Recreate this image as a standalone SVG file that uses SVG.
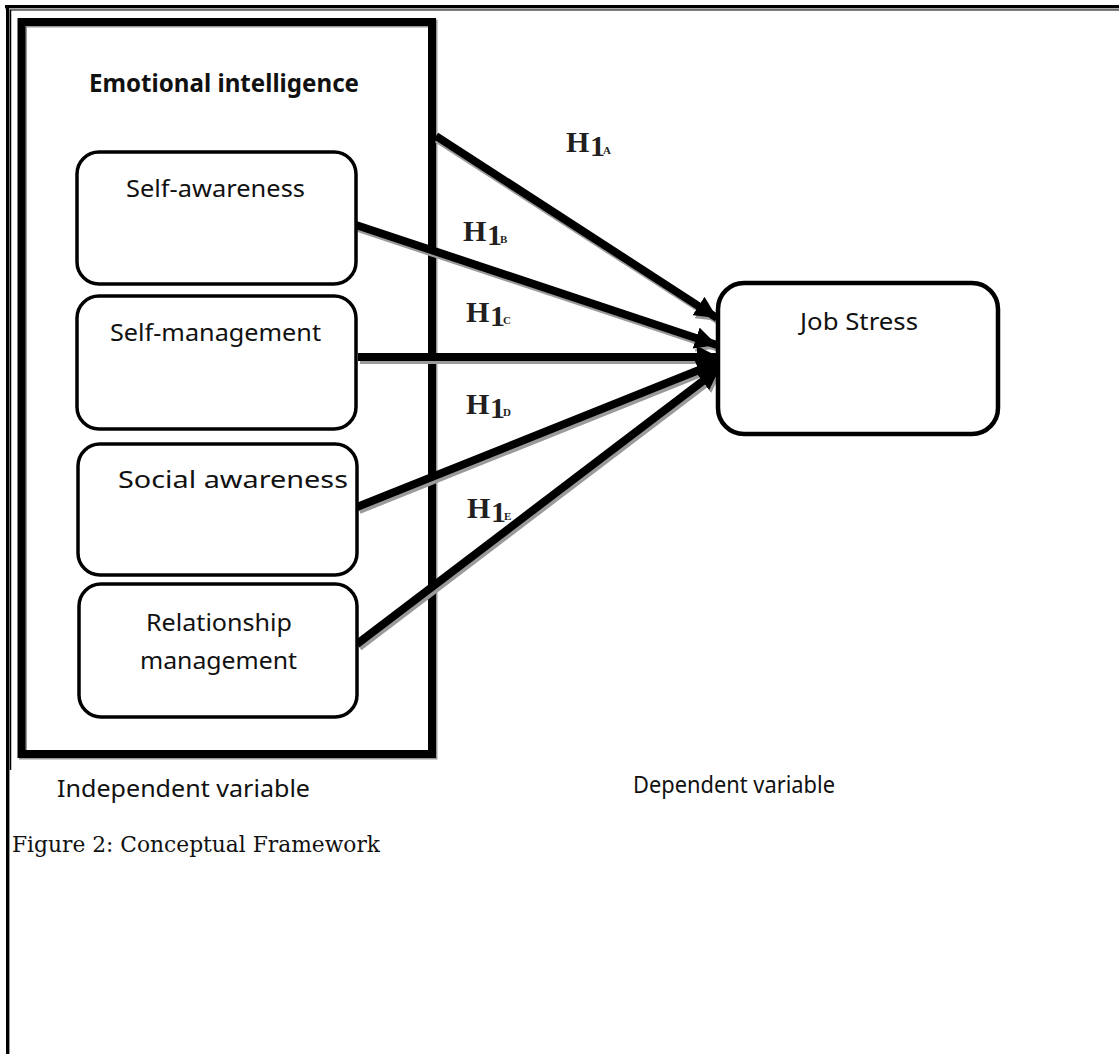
<svg xmlns="http://www.w3.org/2000/svg" width="1119" height="1054" viewBox="0 0 1119 1054">
<style>
.lbl{font-family:"Noto Sans","Open Sans",sans-serif;font-size:24px;fill:#111}
.hd{font-family:"Noto Sans","Open Sans",sans-serif;font-size:25px;font-weight:bold;fill:#111}
.cap{font-family:"DejaVu Serif","Liberation Serif",serif;font-size:22px;fill:#111}
.h{font-family:"Liberation Serif","Times New Roman",serif;font-size:30px;font-weight:bold;fill:#231f20}
.hs{font-size:11px}
.node{fill:#fff;stroke:#000;stroke-width:3.5}
.arr{fill:none;stroke:#000;stroke-width:8;marker-end:url(#ah)}
.sh{fill:none;stroke:#9a9a9a;stroke-width:8;marker-end:url(#ahs)}
</style>
<defs>
<marker id="ah" markerUnits="userSpaceOnUse" markerWidth="24" markerHeight="22" refX="22" refY="11" orient="auto">
<path d="M0,0 L22,11 L0,22 Z" fill="#000"/>
</marker>
<marker id="ahs" markerUnits="userSpaceOnUse" markerWidth="24" markerHeight="22" refX="22" refY="11" orient="auto">
<path d="M0,0 L22,11 L0,22 Z" fill="#9a9a9a"/>
</marker>
</defs>
<rect width="1119" height="1054" fill="#fff"/>
<g id="frame">
<line x1="5" y1="8.5" x2="1119" y2="8.5" stroke="#aaa" stroke-width="2"/>
<line x1="5" y1="6.5" x2="1119" y2="6.5" stroke="#000" stroke-width="3"/>
<line x1="10" y1="10" x2="1119" y2="10" stroke="#000" stroke-width="1"/>
<line x1="7.5" y1="5" x2="7.5" y2="1054" stroke="#000" stroke-width="3"/>
<line x1="9.5" y1="8" x2="9.5" y2="1054" stroke="#999" stroke-width="1"/>
<line x1="10.5" y1="10" x2="10.5" y2="770" stroke="#000" stroke-width="1.5"/>
</g>
<g id="ei-group">
<rect x="23" y="23.5" width="410.5" height="732" fill="none" stroke="#999" stroke-width="8"/>
<rect x="21.5" y="22" width="410.5" height="732" fill="none" stroke="#000" stroke-width="8"/>
<text class="hd" x="224" y="92" text-anchor="middle" textLength="270" lengthAdjust="spacingAndGlyphs">Emotional intelligence</text>
</g>
<g id="connectors">
<path class="sh" d="M437,139 L719,321"/>
<path class="sh" d="M358,228 L719,348"/>
<path class="sh" d="M360,360 L721,360"/>
<path class="sh" d="M359,510 L721,365"/>
<path class="sh" d="M359,647 L722,371"/>
<path class="arr" d="M436,136 L717,318"/>
<path class="arr" d="M356,225 L717,345"/>
<path class="arr" d="M358,357 L719,357"/>
<path class="arr" d="M357,507 L719,362"/>
<path class="arr" d="M357,644 L720,368"/>
</g>
<g id="self-awareness">
<rect class="node" x="77" y="152" width="279" height="132" rx="22"/>
<text class="lbl" x="215.5" y="197" text-anchor="middle" textLength="179" lengthAdjust="spacingAndGlyphs">Self-awareness</text>
</g>
<g id="self-management">
<rect class="node" x="77" y="296" width="279" height="133" rx="22"/>
<text class="lbl" x="215.5" y="341" text-anchor="middle" textLength="211" lengthAdjust="spacingAndGlyphs">Self-management</text>
</g>
<g id="social-awareness">
<rect class="node" x="78" y="444" width="279" height="131" rx="22"/>
<text class="lbl" x="233" y="488" text-anchor="middle" textLength="230" lengthAdjust="spacingAndGlyphs">Social awareness</text>
</g>
<g id="relationship-management">
<rect class="node" x="79" y="584" width="278" height="133" rx="22"/>
<text class="lbl" x="219" y="631" text-anchor="middle" textLength="146" lengthAdjust="spacingAndGlyphs">Relationship</text>
<text class="lbl" x="218.5" y="669" text-anchor="middle" textLength="157" lengthAdjust="spacingAndGlyphs">management</text>
</g>
<g id="job-stress">
<rect x="718" y="283" width="280" height="151" rx="26" fill="#fff" stroke="#000" stroke-width="4.5"/>
<text class="lbl" x="859" y="330" text-anchor="middle" textLength="118" lengthAdjust="spacingAndGlyphs">Job Stress</text>
</g>
<g id="hyp-labels">
<text class="h" x="566" y="152">H<tspan x="590" dy="4" letter-spacing="-3">1</tspan><tspan class="hs" x="603" dy="-2">A</tspan></text>
<text class="h" x="463" y="241">H<tspan x="487" dy="4" letter-spacing="-3">1</tspan><tspan class="hs" x="500" dy="-2">B</tspan></text>
<text class="h" x="466" y="322">H<tspan x="490" dy="4" letter-spacing="-3">1</tspan><tspan class="hs" x="503" dy="-2">C</tspan></text>
<text class="h" x="466" y="414">H<tspan x="490" dy="4" letter-spacing="-3">1</tspan><tspan class="hs" x="503" dy="-2">D</tspan></text>
<text class="h" x="467" y="518">H<tspan x="491" dy="4" letter-spacing="-3">1</tspan><tspan class="hs" x="504" dy="-2">E</tspan></text>
</g>
<g id="captions">
<text class="lbl" x="57" y="797" textLength="253" lengthAdjust="spacingAndGlyphs">Independent variable</text>
<text class="lbl" x="633" y="793" textLength="202" lengthAdjust="spacingAndGlyphs">Dependent variable</text>
<text class="cap" x="12" y="852" textLength="368" lengthAdjust="spacingAndGlyphs">Figure 2: Conceptual Framework</text>
</g>
</svg>
